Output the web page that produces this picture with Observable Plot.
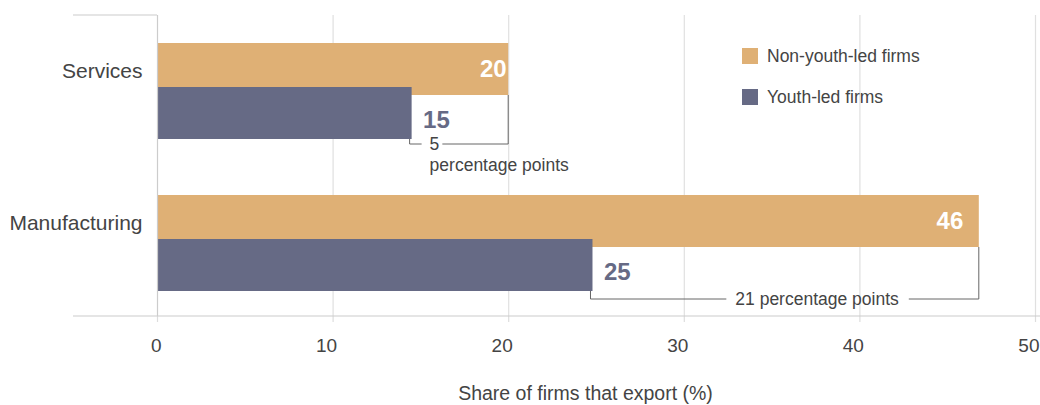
<!DOCTYPE html>
<html>
<head>
<meta charset="utf-8">
<script src="https://cdn.jsdelivr.net/npm/d3@7"></script>
<script src="https://cdn.jsdelivr.net/npm/@observablehq/plot@0.6"></script>
<style>
  html, body { margin: 0; padding: 0; background: #fff; }
  #chart { position: relative; width: 1040px; height: 405px; }
</style>
</head>
<body>
<div id="chart"></div>
<script>
// ---- data ----
const categories = ["Services", "Manufacturing"];
const series = ["Non-youth-led firms", "Youth-led firms"];
const seriesColors = ["#DFB075", "#666A85"];
const nonYouthValues = [20.0, 46.8];
const youthValues = [14.5, 24.8];
const nonYouthLabels = ["20", "46"];
const youthLabels = ["15", "25"];
const gapValues = ["5", "21"];
const gapSuffix = "percentage points";
const xTicks = [0, 10, 20, 30, 40, 50];
const xLabel = "Share of firms that export (%)";

(function () {
const nonYouth = categories.map((c, i) => ({category: c, value: nonYouthValues[i], label: nonYouthLabels[i]}));
const youth = categories.map((c, i) => ({category: c, value: youthValues[i], label: youthLabels[i]}));

const FONT = "'Liberation Sans', Arial, Helvetica, sans-serif";
const barH = 52, overlapOff = 44;

const plot = Plot.plot({
  width: 1040,
  height: 405,
  marginLeft: 157,
  marginRight: 5,
  marginTop: 15,
  marginBottom: 89,
  style: {fontFamily: FONT, fontSize: "17px", color: "#444", background: "#fff"},
  x: {domain: [0, 50], label: null},
  y: {domain: categories, paddingInner: 0.368, paddingOuter: 0.174, align: 0.53, label: null},
  marks: [
    Plot.ruleX(xTicks.filter(d => d !== 0), {stroke: "#e0e0e0", strokeWidth: 1.2}),
    Plot.axisX({ticks: xTicks, tickSize: 6, tickFormat: () => "", stroke: "#ddd", strokeWidth: 1.2, label: null}),
    Plot.axisX({ticks: xTicks, tickSize: 0, tickPadding: 22, fill: "#444", fontSize: 19,
      textAnchor: "end", dx: 4, label: null}),
    Plot.axisY({tickSize: 0, tickPadding: 15, dy: -20, fontSize: 21, fill: "#444", label: null}),
    Plot.barX(nonYouth, {x: "value", y: "category", fill: seriesColors[0], insetBottom: overlapOff}),
    Plot.barX(youth, {x: "value", y: "category", fill: seriesColors[1], insetTop: overlapOff}),
    Plot.ruleX([0], {stroke: "#ccc", strokeWidth: 1.2}),
    Plot.text(nonYouth, {x: d => +d.label, y: "category", text: "label", textAnchor: "end", dx: -2, dy: -22,
      fill: "#fff", fontWeight: "bold", fontSize: 24}),
    Plot.text(youth, {x: "value", y: "category", text: "label", textAnchor: "start", dx: 11, dy: 29,
      fill: seriesColors[1], fontWeight: "bold", fontSize: 24}),
    Plot.text([xLabel], {frameAnchor: "bottom", dy: 83, dx: -11, fontSize: 19.5, fill: "#444"})
  ]
});
document.getElementById("chart").appendChild(plot);

const svg = d3.select(plot);
const xs = plot.scale("x"), ys = plot.scale("y");
const bw = ys.bandwidth;
const frameTop = 15, frameBottom = 316;

// frame lines (top-left corner and baseline)
svg.append("line").attr("x1", 73).attr("x2", xs.apply(0)).attr("y1", frameTop).attr("y2", frameTop)
  .attr("stroke", "#ccc").attr("stroke-width", 1.2);
svg.append("line").attr("x1", 73).attr("x2", 1040).attr("y1", frameBottom).attr("y2", frameBottom)
  .attr("stroke", "#ccc").attr("stroke-width", 1.2);

// gap brackets
const g = svg.append("g").attr("fill", "none").attr("stroke", "#666").attr("stroke-width", 1);
const tg = svg.append("g").attr("font-family", FONT).attr("font-size", 17.5).attr("fill", "#444")
  .attr("text-anchor", "start");
categories.forEach((c, i) => {
  const y0 = ys.apply(c);
  const xYouth = xs.apply(youthValues[i]) - 2;
  const xNon = xs.apply(nonYouthValues[i]);
  const yB = y0 + bw + (i === 0 ? 5 : 8);
  const yOrangeBottom = y0 + barH;
  const yPurpleBottom = y0 + bw;
  if (i === 0) {
    const t = tg.append("text").attr("x", xYouth + 20).attr("y", yB).attr("dy", "0.35em").text(gapValues[i]);
    const w = t.node().getComputedTextLength();
    tg.append("text").attr("x", xYouth + 20).attr("y", yB + 21).attr("dy", "0.35em").text(gapSuffix);
    g.append("path").attr("d", `M${xYouth},${yPurpleBottom}V${yB}H${xYouth + 12}`);
    g.append("path").attr("d", `M${xYouth + 20 + w + 3},${yB}H${xNon}V${yOrangeBottom}`);
  } else {
    const t = tg.append("text").attr("x", xNon - 80).attr("y", yB).attr("dy", "0.35em")
      .attr("text-anchor", "end").text(gapValues[i] + " " + gapSuffix);
    const w = t.node().getComputedTextLength();
    const tEnd = xNon - 80, tStart = tEnd - w;
    g.append("path").attr("d", `M${xYouth},${yPurpleBottom}V${yB}H${tStart - 9}`);
    g.append("path").attr("d", `M${tEnd + 10},${yB}H${xNon}V${yOrangeBottom}`);
  }
});

// legend
const lg = svg.append("g").attr("font-family", FONT).attr("font-size", 17.5).attr("fill", "#444")
  .attr("text-anchor", "start");
series.forEach((s, i) => {
  const yy = 48 + i * 41;
  lg.append("rect").attr("x", 742).attr("y", yy).attr("width", 16).attr("height", 16).attr("fill", seriesColors[i]);
  lg.append("text").attr("x", 767).attr("y", yy + 8).attr("dy", "0.35em").text(s);
});
})();
</script>
</body>
</html>
